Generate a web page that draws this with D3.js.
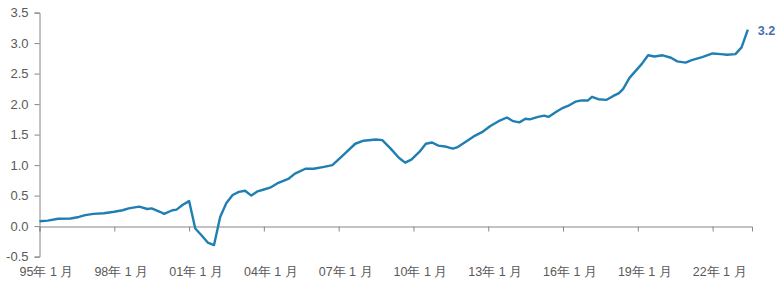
<!DOCTYPE html>
<html>
<head>
<meta charset="utf-8">
<script src="https://cdn.jsdelivr.net/npm/d3@7"></script>
<style>
  body { margin: 0; background: #fff; }
  svg { display: block; font-family: "Liberation Sans", Arial, sans-serif; }
  .axis text { fill: #595959; }
</style>
</head>
<body>
<svg id="chart" width="780" height="282"></svg>
<script>
// months of each point (yyyy-mm) and the value read for it
var months = [
  "1995-01","1995-05","1995-10","1996-04","1996-08","1996-11","1997-03","1997-08",
  "1998-01","1998-05","1998-08","1999-01","1999-05","1999-07","1999-11","2000-01",
  "2000-05","2000-07","2000-10","2001-01","2001-04","2001-07","2001-10","2002-01",
  "2002-04","2002-07","2002-10","2003-01","2003-04","2003-07","2003-10","2004-01",
  "2004-04","2004-08","2005-01","2005-04","2005-09","2006-01","2006-06","2006-10",
  "2007-04","2007-09","2008-01","2008-07","2008-10","2009-02","2009-06","2009-09",
  "2009-12","2010-04","2010-07","2010-10","2011-01","2011-05","2011-08","2011-10",
  "2012-02","2012-06","2012-10","2013-02","2013-06","2013-10","2014-01","2014-04",
  "2014-07","2014-09","2015-01","2015-04","2015-06","2015-10","2016-01","2016-04",
  "2016-07","2016-10","2017-01","2017-03","2017-06","2017-10","2018-01","2018-04",
  "2018-06","2018-09","2019-03","2019-06","2019-09","2020-01","2020-05","2020-08",
  "2020-12","2021-03","2021-08","2022-01","2022-05","2022-08","2022-12","2023-03",
  "2023-06"
];
var values = [
  0.08, 0.09, 0.12, 0.125, 0.15, 0.18, 0.20, 0.21,
  0.235, 0.26, 0.29, 0.32, 0.28, 0.29, 0.235, 0.20,
  0.26, 0.27, 0.35, 0.41, -0.04, -0.15, -0.27, -0.31,
  0.15, 0.38, 0.51, 0.56, 0.58, 0.50, 0.57, 0.60,
  0.63, 0.71, 0.78, 0.86, 0.94, 0.94, 0.97, 1.00,
  1.19, 1.35, 1.40, 1.42, 1.41, 1.27, 1.12, 1.04,
  1.09, 1.22, 1.35, 1.37, 1.32, 1.30, 1.27, 1.29,
  1.38, 1.47, 1.54, 1.64, 1.72, 1.78, 1.72, 1.70,
  1.76, 1.75, 1.79, 1.81, 1.79, 1.88, 1.94, 1.98,
  2.04, 2.06, 2.06, 2.12, 2.08, 2.07, 2.13, 2.18,
  2.25, 2.43, 2.66, 2.80, 2.78, 2.80, 2.76, 2.70,
  2.68, 2.72, 2.77, 2.83, 2.82, 2.81, 2.82, 2.93,
  3.22
];
var yTicks = [-0.5, 0, 0.5, 1.0, 1.5, 2.0, 2.5, 3.0, 3.5];
var endLabel = "3.2";

var parseMonth = d3.timeParse("%Y-%m");
var data = months.map(function (m, i) {
    return { date: parseMonth(m), value: values[i] };
});

var svg = d3.select("#chart");
var axisColor = "#868686";

var x = d3.scaleTime()
    .domain([new Date(1995, 0, 1), new Date(2023, 7, 1)])
    .range([39.5, 752]);
var y = d3.scaleLinear()
    .domain([-0.5, 3.5])
    .range([256.6, 12.6]);

    // left axis
var yAxis = svg.append("g")
    .attr("class", "axis")
    .attr("transform", "translate(39.5,0)")
    .call(d3.axisLeft(y)
        .tickValues(yTicks)
        .tickSize(5)
        .tickPadding(6)
        .tickFormat(function (d) { return d3.format(".1f")(d).replace("\u2212", "-"); }));
yAxis.selectAll("text").style("font-size", "13px");

    // bottom axis sits on the zero line, labels go below the plot
var xTicks = d3.timeYear.every(3).range(new Date(1995, 0, 1), new Date(2023, 1, 1));
var xAxis = svg.append("g")
    .attr("class", "axis")
    .attr("transform", "translate(0," + Math.round(y(0)) + ".5)")
    .call(d3.axisBottom(x).tickValues(xTicks).tickSize(5).tickFormat(""));

svg.selectAll(".axis path, .axis line")
    .attr("stroke", axisColor)
    .attr("stroke-width", 1);

svg.append("g")
    .attr("class", "axis")
    .selectAll("text")
    .data(xTicks)
    .enter().append("text")
    .attr("x", function (d) { return x(d) + 7; })
    .attr("y", 276)
    .attr("text-anchor", "middle")
    .style("font-size", "12.5px")
    .text(d3.timeFormat("%y年 %-m 月"));

    // the series
var line = d3.line()
    .x(function (d) { return x(d.date); })
    .y(function (d) { return y(d.value); });

svg.append("path")
    .datum(data)
    .attr("fill", "none")
    .attr("stroke", "#1f7fb2")
    .attr("stroke-width", 2.4)
    .attr("stroke-linejoin", "round")
    .attr("d", line);

var last = data[data.length - 1];
svg.append("text")
    .attr("x", x(last.date) + 10)
    .attr("y", y(last.value) + 5)
    .attr("fill", "#4a6db0")
    .style("font-size", "12.5px")
    .style("font-weight", "bold")
    .text(endLabel);
</script>
</body>
</html>
